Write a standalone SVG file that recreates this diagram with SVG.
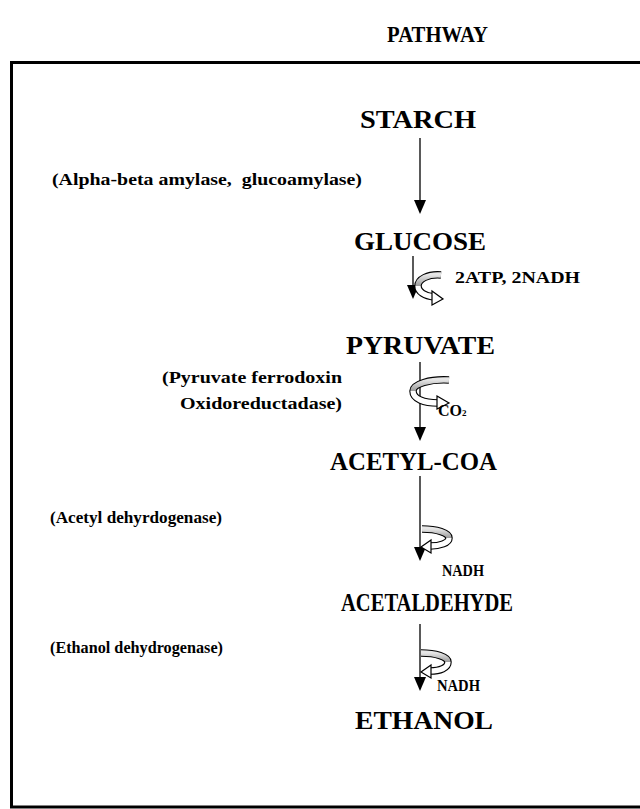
<svg xmlns="http://www.w3.org/2000/svg" width="640" height="809" viewBox="0 0 640 809">
<style>
text{font-family:"Liberation Serif","Times New Roman",serif;font-weight:bold;fill:#000}
.t{font-size:23px}
.n{font-size:25px}
.l{font-size:16.5px}
.s{font-size:16px}
.ln{stroke:#000;stroke-width:1.3;fill:none}
.ah2{fill:#000}
.bo{stroke:#000;stroke-width:7.5;fill:none;stroke-linecap:butt}
.bg{stroke:url(#g);stroke-width:5.3;fill:none}
.bw{stroke:#fff;stroke-width:5.3;fill:none}
.ah{fill:#fff;stroke:#000;stroke-width:1.2;stroke-linejoin:miter}
</style>
<defs>
<linearGradient id="g" x1="0" y1="0" x2="0" y2="1">
<stop offset="0" stop-color="#e6e6e6"/><stop offset="1" stop-color="#9a9a9a"/>
</linearGradient>
</defs>
<rect width="640" height="809" fill="#fff"/>
<text class="t" x="387" y="42" textLength="101" lengthAdjust="spacingAndGlyphs">PATHWAY</text>
<rect x="11.5" y="62.5" width="640" height="744.5" fill="none" stroke="#000" stroke-width="3"/>

<g id="connectors">
<line x1="420" y1="138" x2="420" y2="201" class="ln"/>
<path class="ah2" d="M414,200 L426,200 L420,214 Z"/>
<line x1="413" y1="256" x2="413" y2="286" class="ln"/>
<path class="ah2" d="M407,285 L419,285 L413,299 Z"/>
<line x1="420" y1="362" x2="420" y2="428" class="ln"/>
<path class="ah2" d="M414,427 L426,427 L420,441 Z"/>
<line x1="420" y1="476" x2="420" y2="548" class="ln"/>
<path class="ah2" d="M414,547 L426,547 L420,561 Z"/>
<line x1="420" y1="624" x2="420" y2="678" class="ln"/>
<path class="ah2" d="M414,677 L426,677 L420,691 Z"/>
</g>

<g id="cycle1">
<path class="bo" d="M441,275 C428,274 418,279 418,286 C418,292 425,296 434,297"/>
<path class="bg" d="M441,275 C428,274 418,279 418,286"/>
<path class="bw" d="M418,286 C418,292 425,296 434,297"/>
<path class="ah" d="M432,291 L443,299 L432,305 Z"/>
</g>
<g id="cycle2">
<path class="bo" d="M449,380 C430,379 413,384 413,391 C413,399 424,403 438,403"/>
<path class="bg" d="M449,380 C430,379 413,384 413,391"/>
<path class="bw" d="M413,391 C413,399 424,403 438,403"/>
<path class="ah" d="M437,396 L449,403 L437,409 Z"/>
</g>
<g id="cycle3">
<path class="bo" d="M422,529 C437,529 449,533 449,538 C449,543 440,546 430,546"/>
<path class="bg" d="M422,529 C437,529 449,533 449,538"/>
<path class="bw" d="M449,538 C449,543 440,546 430,546"/>
<path class="ah" d="M431,540 L421,547 L431,553 Z"/>
</g>
<g id="cycle4">
<path class="bo" d="M421,653 C436,653 448,657 448,662 C448,668 440,671 430,671"/>
<path class="bg" d="M421,653 C436,653 448,657 448,662"/>
<path class="bw" d="M448,662 C448,668 440,671 430,671"/>
<path class="ah" d="M431,665 L421,672 L431,678 Z"/>
</g>

<g id="starch"><text class="n" x="360" y="128" textLength="116" lengthAdjust="spacingAndGlyphs">STARCH</text></g>
<g id="enzyme1"><text class="l" x="52" y="185" textLength="310" lengthAdjust="spacingAndGlyphs" xml:space="preserve">(Alpha-beta amylase,  glucoamylase)</text></g>
<g id="glucose"><text class="n" x="354" y="250" textLength="132" lengthAdjust="spacingAndGlyphs">GLUCOSE</text></g>
<g id="atp"><text class="s" x="455" y="283" textLength="125" lengthAdjust="spacingAndGlyphs">2ATP, 2NADH</text></g>
<g id="pyruvate"><text class="n" x="346" y="354" textLength="149" lengthAdjust="spacingAndGlyphs">PYRUVATE</text></g>
<g id="enzyme2">
<text class="l" x="162" y="383" textLength="180" lengthAdjust="spacingAndGlyphs">(Pyruvate ferrodoxin</text>
<text class="l" x="180" y="409" textLength="162" lengthAdjust="spacingAndGlyphs">Oxidoreductadase)</text>
</g>
<g id="co2"><text class="s" x="438" y="416">CO<tspan font-size="9">2</tspan></text></g>
<g id="acetylcoa"><text class="n" x="330" y="470" textLength="167" lengthAdjust="spacingAndGlyphs">ACETYL-COA</text></g>
<g id="enzyme3"><text class="l" x="50" y="523" textLength="172" lengthAdjust="spacingAndGlyphs">(Acetyl dehyrdogenase)</text></g>
<g id="nadh1"><text class="s" x="442" y="576" textLength="42" lengthAdjust="spacingAndGlyphs">NADH</text></g>
<g id="acetaldehyde"><text class="n" x="341" y="611" textLength="172" lengthAdjust="spacingAndGlyphs" font-size="22">ACETALDEHYDE</text></g>
<g id="enzyme4"><text class="l" x="50" y="653" textLength="173" lengthAdjust="spacingAndGlyphs">(Ethanol dehydrogenase)</text></g>
<g id="nadh2"><text class="s" x="437" y="691" textLength="43" lengthAdjust="spacingAndGlyphs">NADH</text></g>
<g id="ethanol"><text class="n" x="355" y="729" textLength="138" lengthAdjust="spacingAndGlyphs">ETHANOL</text></g>
</svg>
